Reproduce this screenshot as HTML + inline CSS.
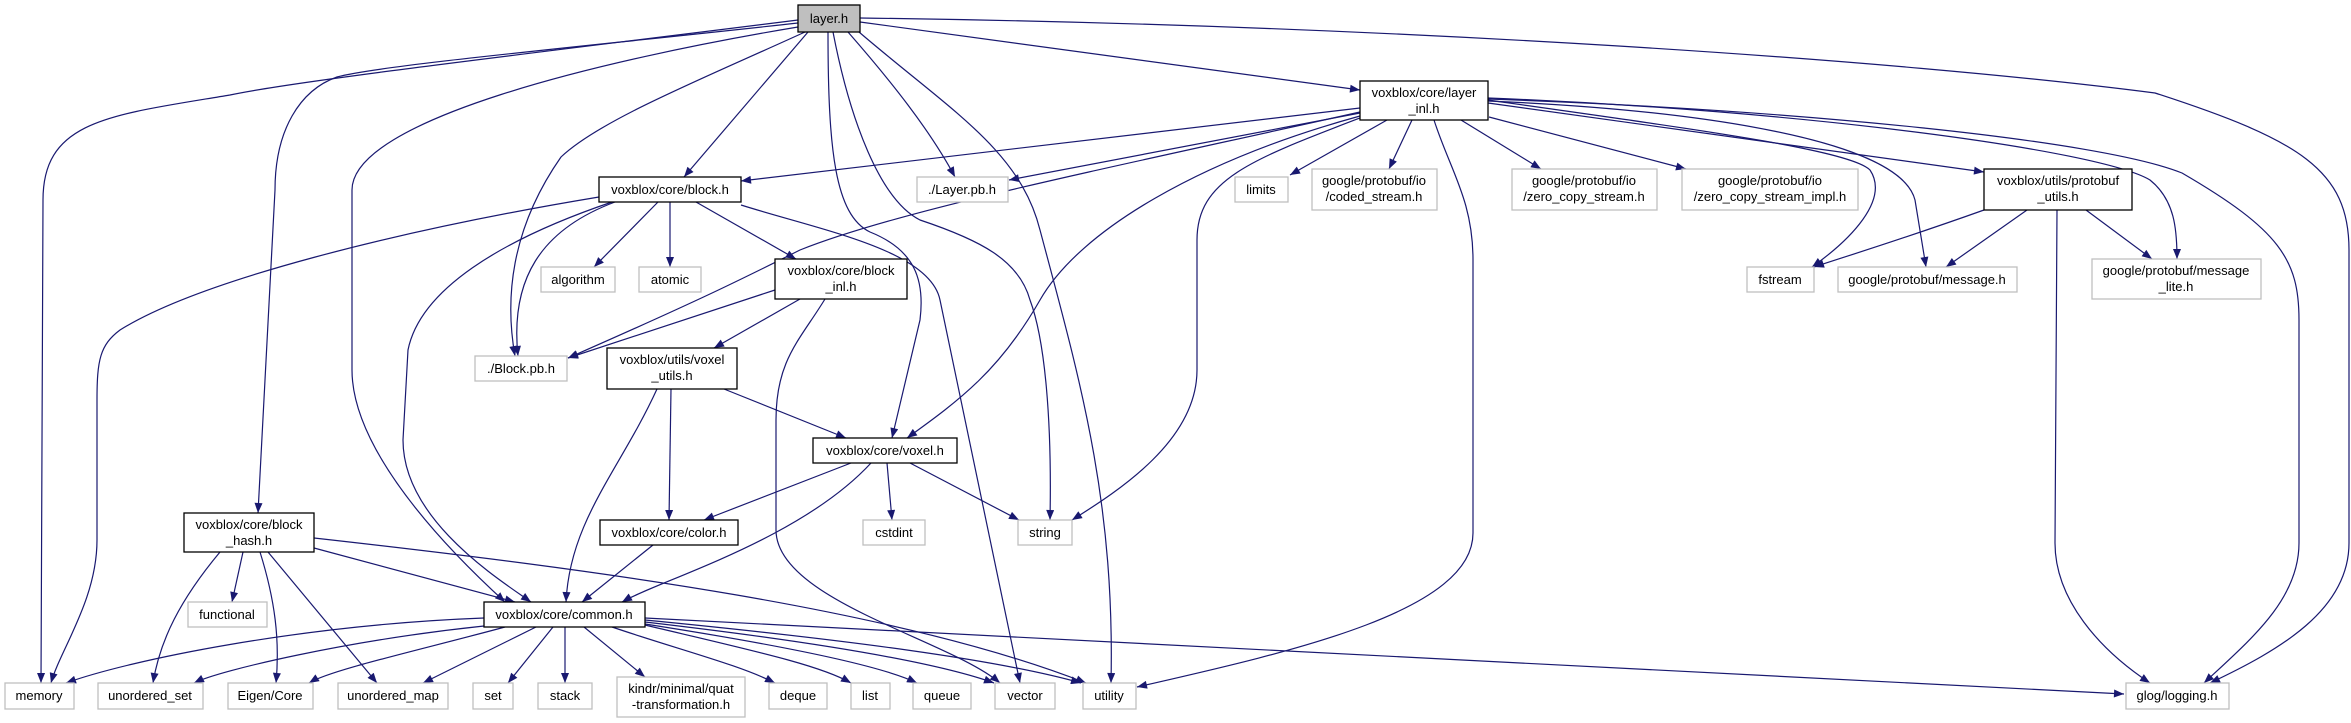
<!DOCTYPE html>
<html><head><meta charset="utf-8"><style>
html,body{margin:0;padding:0;background:#fff;}
svg{display:block;}
text{font-family:"Liberation Sans",Helvetica,sans-serif;font-size:13px;fill:#000;text-anchor:middle;}
.e{fill:none;stroke:#191970;stroke-width:1.2;marker-end:url(#a);}
.b{fill:#fff;stroke:#000;stroke-width:1.3;}
.g{fill:#fff;stroke:#bfbfbf;stroke-width:1.3;}
</style></head><body>
<svg width="2351" height="723" viewBox="0 0 2351 723" xmlns="http://www.w3.org/2000/svg">
<defs><marker id="a" viewBox="0 0 10 8" refX="10" refY="4" markerWidth="11" markerHeight="8" markerUnits="userSpaceOnUse" orient="auto"><path d="M0,0 L10,4 L0,8z" fill="#191970"/></marker></defs>
<!-- edges from layer.h -->
<path class="e" d="M798,20 C560,50 300,80 230,95 C110,115 43,120 43,200 L41,683"/>
<path class="e" d="M798,23 C600,45 380,65 337,77 C300,90 275,130 275,190 L258,513"/>
<path class="e" d="M798,27 C600,60 352,120 352,190 L352,370 C352,460 470,570 505,602"/>
<path class="e" d="M805,32 C700,80 600,120 561,157 C510,230 505,300 515,356"/>
<path class="e" d="M808,32 L684,177"/>
<path class="e" d="M828,32 C828,150 835,215 870,232 C915,250 925,280 920,320 L892,438"/>
<path class="e" d="M833,32 C850,120 880,200 920,220 C980,240 1019,260 1030,300 C1045,340 1052,420 1050,520"/>
<path class="e" d="M848,32 C890,80 930,130 955,177"/>
<path class="e" d="M859,32 C950,110 1020,150 1040,230 C1080,380 1115,500 1111,683"/>
<path class="e" d="M860,22 L1360,90"/>
<path class="e" d="M860,18 C1400,25 1900,60 2155,93 C2300,140 2349,170 2349,250 L2349,543 C2349,610 2280,650 2210,683"/>
<!-- edges from layer_inl.h -->
<path class="e" d="M1360,108 L741,181"/>
<path class="e" d="M1360,113 L1009,180"/>
<path class="e" d="M1360,112 C1100,170 900,210 800,250 C740,280 700,300 568,358"/>
<path class="e" d="M1360,116 C1200,160 1080,230 1040,300 C1000,370 960,400 907,438"/>
<path class="e" d="M1360,118 C1250,160 1197,180 1197,240 L1197,370 C1197,440 1120,490 1072,520"/>
<path class="e" d="M1387,120 L1290,175"/>
<path class="e" d="M1412,120 L1389,169"/>
<path class="e" d="M1434,120 C1450,170 1473,200 1473,260 L1473,533 C1473,610 1300,650 1137,687"/>
<path class="e" d="M1461,120 L1541,169"/>
<path class="e" d="M1489,117 L1686,169"/>
<path class="e" d="M1488,103 L1984,172"/>
<path class="e" d="M1488,100 C1700,130 1850,150 1870,170 C1890,200 1850,240 1812,267"/>
<path class="e" d="M1488,101 C1700,110 1900,140 1915,200 L1926,267"/>
<path class="e" d="M1488,98 C1800,110 2100,150 2150,180 C2175,200 2177,230 2177,259"/>
<path class="e" d="M1488,99 C1800,110 2100,140 2182,173 C2280,230 2299,260 2299,320 L2299,543 C2299,600 2250,640 2204,683"/>
<!-- protobuf_utils -->
<path class="e" d="M1984,210 C1900,240 1850,255 1814,267"/>
<path class="e" d="M2027,210 L1946,267"/>
<path class="e" d="M2086,210 L2152,259"/>
<path class="e" d="M2057,210 L2055,543 C2055,600 2100,650 2150,683"/>
<!-- block.h -->
<path class="e" d="M599,197 C400,230 200,280 120,330 C100,345 97,360 97,400 L97,540 C97,600 60,650 51,683"/>
<path class="e" d="M612,202 C500,240 420,290 408,350 L403,440 C403,520 500,580 531,602"/>
<path class="e" d="M615,202 C540,230 510,280 518,356"/>
<path class="e" d="M658,202 L594,267"/>
<path class="e" d="M670,202 L670,267"/>
<path class="e" d="M696,202 L796,259"/>
<path class="e" d="M741,205 C820,230 930,250 940,300 L1020,683"/>
<!-- block_inl -->
<path class="e" d="M775,290 L568,358"/>
<path class="e" d="M800,299 L714,348"/>
<path class="e" d="M825,299 C800,340 776,360 776,420 L776,530 C776,600 950,640 1000,683"/>
<!-- voxel_utils -->
<path class="e" d="M724,389 L846,438"/>
<path class="e" d="M671,389 L669,520"/>
<path class="e" d="M657,389 C620,470 570,520 566,602"/>
<!-- voxel.h -->
<path class="e" d="M851,463 L704,520"/>
<path class="e" d="M871,463 C800,540 660,580 622,602"/>
<path class="e" d="M887,463 L892,520"/>
<path class="e" d="M910,463 L1019,520"/>
<!-- color.h -->
<path class="e" d="M653,545 L582,602"/>
<!-- block_hash -->
<path class="e" d="M314,548 L515,602"/>
<path class="e" d="M314,538 C600,570 900,610 1086,683"/>
<path class="e" d="M243,552 L232,602"/>
<path class="e" d="M220,552 C180,600 160,640 153,683"/>
<path class="e" d="M260,552 C275,600 280,640 276,683"/>
<path class="e" d="M268,552 L377,683"/>
<!-- common.h -->
<path class="e" d="M484,618 C300,625 130,660 66,683"/>
<path class="e" d="M484,626 C350,640 220,670 194,683"/>
<path class="e" d="M505,627 C420,650 330,670 309,683"/>
<path class="e" d="M536,627 L423,683"/>
<path class="e" d="M553,627 L508,683"/>
<path class="e" d="M565,627 L565,683"/>
<path class="e" d="M584,627 L645,677"/>
<path class="e" d="M612,627 C680,650 740,665 775,683"/>
<path class="e" d="M645,625 C750,650 820,665 851,683"/>
<path class="e" d="M645,624 C780,645 880,665 917,683"/>
<path class="e" d="M645,622 C800,640 930,660 994,683"/>
<path class="e" d="M645,620 C850,640 1000,660 1081,683"/>
<path class="e" d="M645,618 L2124,694"/>
<!-- nodes -->
<rect x="798" y="5" width="62" height="27" fill="#bfbfbf" stroke="#000" stroke-width="1.3"/><text x="829" y="23">layer.h</text>
<rect class="b" x="1360" y="81" width="128" height="39"/><text x="1424" y="97">voxblox/core/layer</text><text x="1424" y="113">_inl.h</text>
<rect class="b" x="599" y="177" width="142" height="25"/><text x="670" y="194">voxblox/core/block.h</text>
<rect class="g" x="917" y="177" width="91" height="25"/><text x="962" y="194">./Layer.pb.h</text>
<rect class="g" x="1235" y="177" width="53" height="25"/><text x="1261" y="194">limits</text>
<rect class="g" x="1312" y="169" width="125" height="41"/><text x="1374" y="185">google/protobuf/io</text><text x="1374" y="201">/coded_stream.h</text>
<rect class="g" x="1512" y="169" width="145" height="41"/><text x="1584" y="185">google/protobuf/io</text><text x="1584" y="201">/zero_copy_stream.h</text>
<rect class="g" x="1682" y="169" width="176" height="41"/><text x="1770" y="185">google/protobuf/io</text><text x="1770" y="201">/zero_copy_stream_impl.h</text>
<rect class="b" x="1984" y="169" width="148" height="41"/><text x="2058" y="185">voxblox/utils/protobuf</text><text x="2058" y="201">_utils.h</text>
<rect class="g" x="541" y="267" width="74" height="25"/><text x="578" y="284">algorithm</text>
<rect class="g" x="639" y="267" width="62" height="25"/><text x="670" y="284">atomic</text>
<rect class="b" x="775" y="259" width="132" height="40"/><text x="841" y="275">voxblox/core/block</text><text x="841" y="291">_inl.h</text>
<rect class="g" x="1747" y="267" width="67" height="25"/><text x="1780" y="284">fstream</text>
<rect class="g" x="1838" y="267" width="179" height="25"/><text x="1927" y="284">google/protobuf/message.h</text>
<rect class="g" x="2092" y="259" width="169" height="40"/><text x="2176" y="275">google/protobuf/message</text><text x="2176" y="291">_lite.h</text>
<rect class="g" x="475" y="356" width="92" height="25"/><text x="521" y="373">./Block.pb.h</text>
<rect class="b" x="607" y="348" width="130" height="41"/><text x="672" y="364">voxblox/utils/voxel</text><text x="672" y="380">_utils.h</text>
<rect class="b" x="813" y="438" width="144" height="25"/><text x="885" y="455">voxblox/core/voxel.h</text>
<rect class="b" x="184" y="513" width="130" height="39"/><text x="249" y="529">voxblox/core/block</text><text x="249" y="545">_hash.h</text>
<rect class="b" x="600" y="520" width="138" height="25"/><text x="669" y="537">voxblox/core/color.h</text>
<rect class="g" x="863" y="520" width="62" height="25"/><text x="894" y="537">cstdint</text>
<rect class="g" x="1018" y="520" width="54" height="25"/><text x="1045" y="537">string</text>
<rect class="g" x="188" y="602" width="79" height="25"/><text x="227" y="619">functional</text>
<rect class="b" x="484" y="602" width="161" height="25"/><text x="564" y="619">voxblox/core/common.h</text>
<rect class="g" x="5" y="683" width="69" height="26"/><text x="39" y="700">memory</text>
<rect class="g" x="98" y="683" width="105" height="26"/><text x="150" y="700">unordered_set</text>
<rect class="g" x="228" y="683" width="85" height="26"/><text x="270" y="700">Eigen/Core</text>
<rect class="g" x="338" y="683" width="110" height="26"/><text x="393" y="700">unordered_map</text>
<rect class="g" x="473" y="683" width="40" height="26"/><text x="493" y="700">set</text>
<rect class="g" x="538" y="683" width="54" height="26"/><text x="565" y="700">stack</text>
<rect class="g" x="617" y="677" width="128" height="40"/><text x="681" y="693">kindr/minimal/quat</text><text x="681" y="709">-transformation.h</text>
<rect class="g" x="769" y="683" width="58" height="26"/><text x="798" y="700">deque</text>
<rect class="g" x="851" y="683" width="39" height="26"/><text x="870" y="700">list</text>
<rect class="g" x="913" y="683" width="58" height="26"/><text x="942" y="700">queue</text>
<rect class="g" x="995" y="683" width="60" height="26"/><text x="1025" y="700">vector</text>
<rect class="g" x="1083" y="683" width="53" height="26"/><text x="1109" y="700">utility</text>
<rect class="g" x="2126" y="683" width="103" height="26"/><text x="2177" y="700">glog/logging.h</text>
</svg>
</body></html>
